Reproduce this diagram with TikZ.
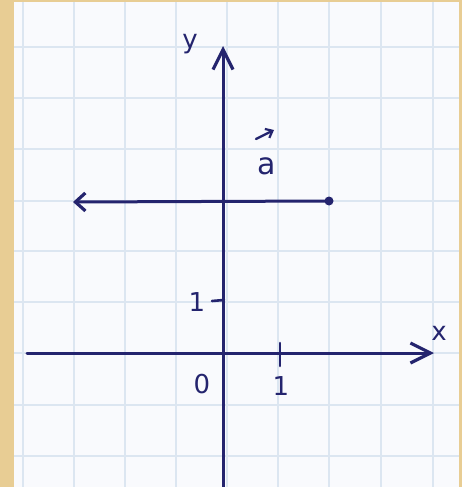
\documentclass[tikz,border=0pt]{standalone}
\usepackage{fontspec}
\setmainfont{DejaVu Sans}
\usetikzlibrary{arrows.meta}
\definecolor{parch}{HTML}{E8CD94}
\definecolor{paper}{HTML}{F9FAFD}
\definecolor{gridc}{HTML}{DCE6F1}
\definecolor{ink}{HTML}{24246E}
\tikzset{
  ink line/.style={draw=ink, line width=3pt, line cap=round},
  bigbarb/.style={-{Straight Barb[length=20pt,width=20pt,line width=3.2pt]}},
  smallbarb/.style={-{Straight Barb[length=10pt,width=18pt,line width=3.2pt]}},
  lbl/.style={text=ink, font=\fontsize{26}{26}\selectfont, inner sep=0pt},
  tickmark/.style={draw=ink, line width=2.6pt, line cap=round},
}
\begin{document}
\begin{tikzpicture}[x=1pt, y=-1pt]
  \useasboundingbox (0,0) rectangle (462,487);
  \fill[parch] (0,0) rectangle (462,487);
  \fill[paper] (14,2) rectangle (459,487);
  % grid
  \foreach \gx in {23,74,125,176,227,278,329,381,433}
    \draw[gridc, line width=1.4pt] (\gx,2) -- (\gx,487);
  \foreach \gy in {47,98,149,201,251,302,353,405,456}
    \draw[gridc, line width=1.4pt] (14,\gy) -- (459,\gy);
  % coordinates
  \coordinate (xs) at (27,353);
  \coordinate (xe) at (434,353);
  \coordinate (ys) at (223,487);
  \coordinate (ye) at (223,46);
  \coordinate (vs) at (329,201);
  \coordinate (ve) at (73,202);
  \coordinate (xt1) at (280,343);
  \coordinate (xt2) at (280,366);
  \coordinate (yt1) at (212,301);
  \coordinate (yt2) at (224,300);
  % axes
  \draw[ink line, bigbarb] (xs) -- (xe);
  \draw[ink line, bigbarb] (ys) -- (ye);
  % vector
  \draw[ink line, smallbarb] (vs) -- (ve);
  \fill[ink] (vs) circle (4.5pt);
  % ticks
  \draw[tickmark] (xt1) -- (xt2);
  \draw[tickmark] (yt1) -- (yt2);
  % labels
  \node[lbl] (ylab) at (190,44) {y};
  \node[lbl] (xlab) at (439,333) {x};
  \node[lbl] (one-y) at (197,302) {1};
  \node[lbl] (zero) at (202,384) {0};
  \node[lbl] (one-x) at (281,386) {1};
  \node[lbl, font=\fontsize{30}{30}\selectfont] (alab) at (267,166) {a};
  \coordinate (aa1) at (256,139);
  \coordinate (aa2) at (274,130);
  \draw[draw=ink, line width=2.4pt, line cap=round, -{Straight Barb[length=6pt,width=10pt,line width=2.2pt]}] (aa1) -- (aa2);
\end{tikzpicture}
\end{document}
